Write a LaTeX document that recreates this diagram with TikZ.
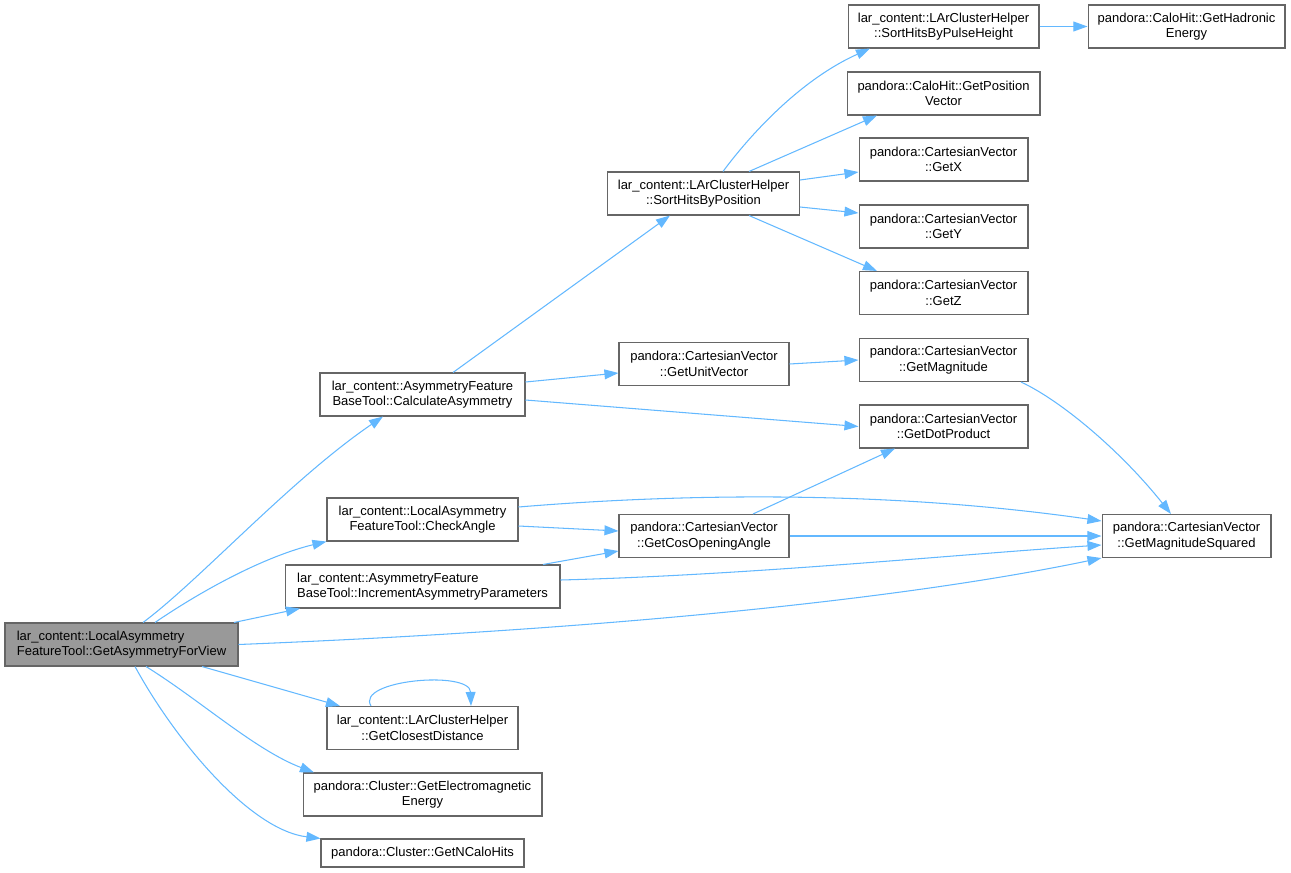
\documentclass[tikz,border=0pt]{standalone}
\usepackage{fontspec}
\setmainfont{Liberation Sans}
\usetikzlibrary{arrows.meta}
\definecolor{edgeblue}{RGB}{99,184,255}
\definecolor{boxgray}{RGB}{102,102,102}
\definecolor{rootgray}{RGB}{153,153,153}
\tikzset{
  fn/.style={draw=boxgray,fill=white,line width=0.6pt,inner sep=0pt,align=center,
    minimum height=0.86cm,font=\fontsize{7.4}{8.9}\selectfont},
  call/.style={draw=edgeblue,line width=0.6pt}
}

\begin{document}
\begin{tikzpicture}[x=0.02cm,y=-0.02cm,>={Triangle[length=8pt,width=5.6pt]}]
\useasboundingbox (0,0) rectangle (1291,872);
\node[fn,fill=rootgray,align=left,minimum width=4.66cm] (view) at (121.5,644.5) {lar\_content::LocalAsymmetry\\FeatureTool::GetAsymmetryForView}; %root
\node[fn,minimum width=4.10cm] (calcasym) at (422.5,394.5) {lar\_content::AsymmetryFeature\\BaseTool::CalculateAsymmetry};
\node[fn,minimum width=3.82cm] (checkangle) at (422.5,519.5) {lar\_content::LocalAsymmetry\\FeatureTool::CheckAngle};
\node[fn,align=left,minimum width=5.50cm] (incrasym) at (422.5,586.5) {lar\_content::AsymmetryFeature\\BaseTool::IncrementAsymmetryParameters};
\node[fn,minimum width=3.82cm] (closest) at (422.5,728) {lar\_content::LArClusterHelper\\::GetClosestDistance};
\node[fn,minimum width=4.78cm] (emenergy) at (422.5,794.5) {pandora::Cluster::GetElectromagnetic\\Energy};
\node[fn,minimum width=4.06cm,minimum height=0.56cm] (ncalohits) at (422.5,853) {pandora::Cluster::GetNCaloHits};
\node[fn,minimum width=3.84cm] (sortpos) at (703.5,193.5) {lar\_content::LArClusterHelper\\::SortHitsByPosition};
\node[fn,minimum width=3.40cm] (unitvec) at (704,364) {pandora::CartesianVector\\::GetUnitVector};
\node[fn,minimum width=3.40cm] (cosangle) at (704,536) {pandora::CartesianVector\\::GetCosOpeningAngle};
\node[fn,minimum width=3.82cm] (sortpulse) at (943.5,26.5) {lar\_content::LArClusterHelper\\::SortHitsByPulseHeight};
\node[fn,minimum width=3.86cm] (posvec) at (943.5,93.5) {pandora::CaloHit::GetPosition\\Vector};
\node[fn,minimum width=3.38cm] (getx) at (943.5,159.5) {pandora::CartesianVector\\::GetX};
\node[fn,minimum width=3.38cm] (gety) at (943.5,226.5) {pandora::CartesianVector\\::GetY};
\node[fn,minimum width=3.38cm] (getz) at (943.5,293) {pandora::CartesianVector\\::GetZ};
\node[fn,minimum width=3.38cm] (magn) at (943.5,360) {pandora::CartesianVector\\::GetMagnitude};
\node[fn,minimum width=3.38cm] (dotprod) at (943.5,426.5) {pandora::CartesianVector\\::GetDotProduct};
\node[fn,minimum width=3.94cm] (hadronic) at (1186.5,26.5) {pandora::CaloHit::GetHadronic\\Energy};
\node[fn,minimum width=3.38cm] (magsq) at (1186.5,536) {pandora::CartesianVector\\::GetMagnitudeSquared};
% calls of the root
\draw[call,->] (143,0 |- view.north) .. controls (200,580) and (290,480) .. (383,0 |- calcasym.south);
\draw[call,->] (155,0 |- view.north) .. controls (210,585) and (270,555) .. (checkangle.south west);
\draw[call,->] (234,0 |- view.north) -- (300,0 |- incrasym.south);
\draw[call,->] (view.east) .. controls (600,630) and (900,600) .. (magsq.south west);
\draw[call,->] (202,0 |- view.south) -- (340,0 |- closest.north);
\draw[call,->] (371,0 |- closest.north) .. controls (355,680) and (470,670) .. (471,0 |- closest.north);
\draw[call,->] (146,0 |- view.south) .. controls (200,700) and (255,750) .. (314,0 |- emenergy.north);
\draw[call,->] (135,0 |- view.south) .. controls (175,740) and (250,830) .. (ncalohits.north west);
% second column
\draw[call,->] (453,0 |- calcasym.north) -- (670,0 |- sortpos.south);
\draw[call,->] (calcasym.east |- 0,382) -- (unitvec.west |- 0,373);
\draw[call,->] (calcasym.east |- 0,400) -- (dotprod.west);
\draw[call,->] (checkangle.east |- 0,526) -- (cosangle.west |- 0,531);
\draw[call,->] (checkangle.east |- 0,507) .. controls (700,492) and (900,492) .. (magsq.west |- 0,521);
\draw[call,->] (543,0 |- incrasym.north) -- (cosangle.west |- 0,551);
\draw[call,->] (incrasym.east |- 0,580) .. controls (750,575) and (950,555) .. (magsq.west |- 0,545);
% third column
\draw[call,->] (723,0 |- sortpos.north) .. controls (750,135) and (800,80) .. (870,0 |- sortpulse.south);
\draw[call,->] (749,0 |- sortpos.north) -- (877,0 |- posvec.south);
\draw[call,->] (sortpos.east |- 0,180) -- (getx.west |- 0,172);
\draw[call,->] (sortpos.east |- 0,207) -- (gety.west |- 0,213);
\draw[call,->] (749,0 |- sortpos.south) -- (877,0 |- getz.north);
\draw[call,->] (unitvec.east) -- (magn.west);
\draw[call,->] (753,0 |- cosangle.north) -- (895,0 |- dotprod.south);
\draw[call,->] (cosangle.east) -- (magsq.west);
% last column
\draw[call,->] (sortpulse.east) -- (hadronic.west);
\draw[call,->] (1021,0 |- magn.south) .. controls (1060,400) and (1120,450) .. (1171,0 |- magsq.north);
\end{tikzpicture}
\end{document}
